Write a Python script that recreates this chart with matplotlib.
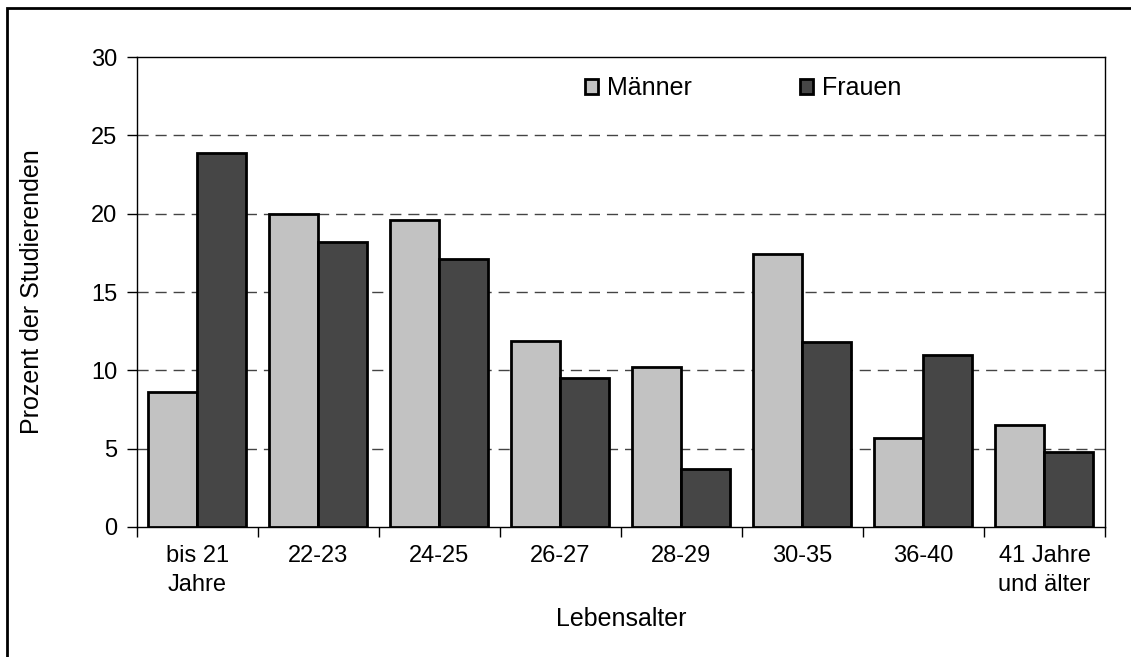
import matplotlib.pyplot as plt
import numpy as np
from matplotlib.patches import Rectangle

plt.rcParams['font.family'] = ['Liberation Sans', 'DejaVu Sans']

# Daten
kategorien = ['bis 21\nJahre', '22-23', '24-25', '26-27', '28-29', '30-35', '36-40', '41 Jahre\nund älter']
maenner = [8.6, 20.0, 19.6, 11.9, 10.2, 17.4, 5.7, 6.5]
frauen = [23.9, 18.2, 17.1, 9.5, 3.7, 11.8, 11.0, 4.8]

fig = plt.figure(figsize=(11.31, 6.57), dpi=100)
ax = fig.add_axes([0.1211, 0.1979, 0.8559, 0.7153])

x = np.arange(len(kategorien))
breite = 0.405
ax.bar(x - breite / 2, maenner, breite, color='#c2c2c2', edgecolor='black',
       linewidth=2, label='Männer', zorder=3)
ax.bar(x + breite / 2, frauen, breite, color='#464646', edgecolor='black',
       linewidth=2, label='Frauen', zorder=3)

ax.set_xlim(-0.5, len(kategorien) - 0.5)
ax.set_ylim(0, 30)
ax.set_yticks(range(0, 31, 5))
ax.tick_params(axis='y', labelsize=17, length=7, width=1, pad=7)

# Ticks an den Kategoriegrenzen, Beschriftung in der Mitte
ax.set_xticks(np.arange(-0.5, len(kategorien)), minor=False)
ax.set_xticklabels([])
ax.set_xticks(x, minor=True)
ax.set_xticklabels(kategorien, minor=True, fontsize=17, linespacing=1.4)
ax.tick_params(axis='x', which='major', length=7, width=1)
ax.tick_params(axis='x', which='minor', length=0, pad=13)

for y in range(5, 30, 5):
    ax.axhline(y, color='#444444', linewidth=1, dashes=(8, 5), zorder=1)

for s in ax.spines.values():
    s.set_linewidth(1)

ax.set_xlabel('Lebensalter', fontsize=18, labelpad=8)
ax.set_ylabel('Prozent der Studierenden', fontsize=18, labelpad=34)

ax.legend(loc='center', bbox_to_anchor=(0.657, 0.866), bbox_transform=fig.transFigure,
          ncol=2, frameon=False, fontsize=18, handlelength=0.55, handleheight=0.55,
          handletextpad=0.35, columnspacing=4.3)

# Rahmen um die Grafik
fig.patches.append(Rectangle((7 / 1131, -0.1), 1.2, 1 - 8 / 657 + 0.1,
                             transform=fig.transFigure, fill=False,
                             edgecolor='black', linewidth=2))

fig.savefig('out.png', dpi=100)
